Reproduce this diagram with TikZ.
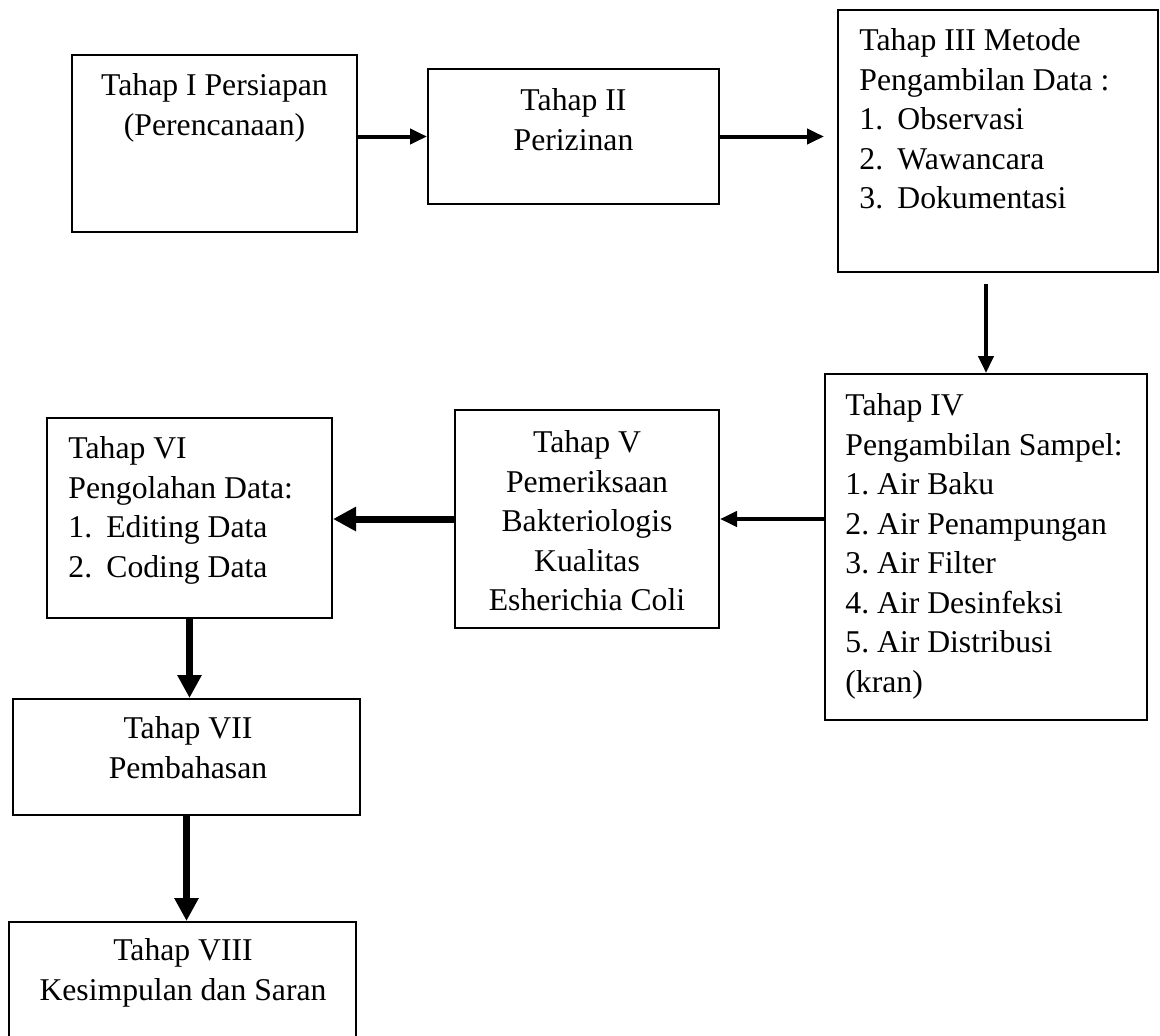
\documentclass[tikz,border=0pt]{standalone}
\usepackage{fontspec}
\setmainfont{Liberation Serif}
\usetikzlibrary{arrows.meta,fit}

\begin{document}
\begin{tikzpicture}[x=0.5pt,y=-0.5pt]
\tikzstyle{every node}+=[inner sep=0pt]
\tikzstyle{box}=[draw=black, line width=1pt, rectangle]
\tikzstyle{txt}=[font=\fontsize{15.85}{19.75}\selectfont, anchor=north]
\tikzstyle{thin arrow}=[line width=2pt, -{Triangle[length=8.5pt,width=7.5pt]}]
\tikzstyle{thick arrow}=[line width=3.5pt, -{Triangle[length=11.5pt,width=11.5pt]}]
\useasboundingbox (0,0) rectangle (1160,1035);
% boxes
\node [box, fit={(72,55) (357,232)}] (b1) {};
\node [box, fit={(428,69) (719,204)}] (b2) {};
\node [box, fit={(838,10) (1158,272)}] (b3) {};
\node [box, fit={(825,374) (1147,720)}] (b4) {};
\node [box, fit={(455,410) (719,628)}] (b5) {};
\node [box, fit={(47,418) (332,618)}] (b6) {};
\node [box, fit={(13,699) (360,815)}] (b7) {};
\node [box, fit={(9,922) (356,1045)}] (b8) {};
% texts
\node [txt, align=center] (t1) at (214.5,73.3) {Tahap I Persiapan\\(Perencanaan)};
\node [txt, align=center] (t2) at (573.5,88.3) {Tahap II\\Perizinan};
\node [txt, align=left, anchor=north west] (t3) at (859,28.3) {Tahap III Metode\\Pengambilan Data :\\\makebox[19pt][l]{1.}Observasi\\\makebox[19pt][l]{2.}Wawancara\\\makebox[19pt][l]{3.}Dokumentasi};
\node [txt, align=left, anchor=north west] (t4) at (845,393.3) {Tahap IV\\Pengambilan Sampel:\\1.\ Air Baku\\2.\ Air Penampungan\\3.\ Air Filter\\4.\ Air Desinfeksi\\5.\ Air Distribusi\\(kran)};
\node [txt, align=center] (t5) at (587,430.3) {Tahap V\\Pemeriksaan\\Bakteriologis\\Kualitas\\Esherichia Coli};
\node [txt, align=left, anchor=north west] (t6) at (68,436.3) {Tahap VI\\Pengolahan Data:\\\makebox[19pt][l]{1.}Editing Data\\\makebox[19pt][l]{2.}Coding Data};
\node [txt, align=center] (t7) at (188,716.3) {Tahap VII\\Pembahasan};
\node [txt, align=center] (t8) at (183,938.3) {Tahap VIII\\Kesimpulan dan Saran};
% arrows
\draw [thin arrow] (b1.east |- b2.west) -- (b2.west);
\draw [thin arrow, shorten >=6.5pt] (b2.east) -- (b2.east -| b3.west);
\draw [thin arrow, shorten <=5.5pt] (b3.south -| b4.north) -- (b4.north);
\draw [thin arrow] (b5.east -| b4.west) -- (b5.east);
\draw [thick arrow] (b5.west) -- (b5.west -| b6.east);
\draw [thick arrow] (b6.south) -- (b6.south |- b7.north);
\draw [thick arrow] (b7.south) -- (b7.south |- b8.north);
\end{tikzpicture}
\end{document}
